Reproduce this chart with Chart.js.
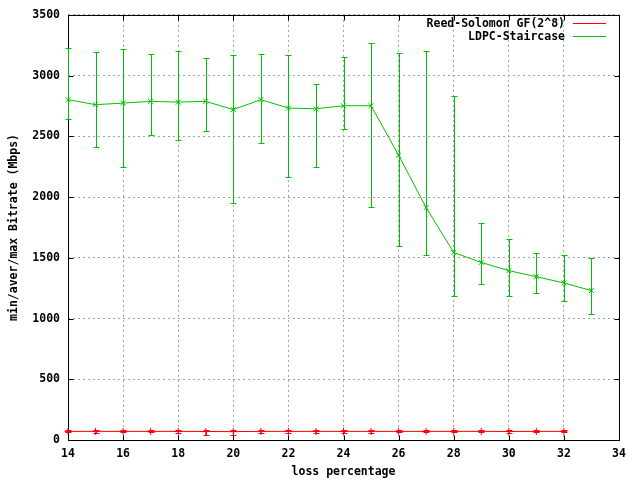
<!DOCTYPE html>
<html>
<head>
<meta charset="utf-8">
<script src="https://cdn.jsdelivr.net/npm/chart.js@4.4.0/dist/chart.umd.min.js"></script>
<style>
  html, body { margin: 0; padding: 0; background: #fff; }
  #wrap { width: 640px; height: 480px; }
</style>
</head>
<body>
<div id="wrap"><canvas id="bitrateChart"></canvas></div>
<script>
'use strict';

// ---- data ----
const xTicks = [14, 16, 18, 20, 22, 24, 26, 28, 30, 32, 34];
const yTicks = [0, 500, 1000, 1500, 2000, 2500, 3000, 3500];

const rsLoss = [14, 15, 16, 17, 18, 19, 20, 21, 22, 23, 24, 25, 26, 27, 28, 29, 30, 31, 32];
const rsAvg  = [71, 71, 71, 71, 71, 70, 69, 71, 71, 71, 71, 71, 71, 71, 71, 71, 70, 71, 71];
const rsMin  = [63, 60, 62, 62, 61, 45, 40, 58, 60, 60, 60, 60, 62, 62, 62, 62, 60, 62, 62];
const rsMax  = [79, 84, 81, 81, 82, 82, 80, 84, 82, 82, 82, 82, 80, 81, 81, 81, 80, 81, 81];

const ldpcLoss = [14, 15, 16, 17, 18, 19, 20, 21, 22, 23, 24, 25, 26, 27, 28, 29, 30, 31, 32, 33];
const ldpcAvg  = [2802, 2761, 2774, 2788, 2782, 2788, 2720, 2802, 2733, 2727, 2752, 2752, 2345, 1913, 1544, 1462, 1394, 1345, 1293, 1230];
const ldpcMin  = [2646, 2411, 2247, 2515, 2474, 2548, 1949, 2449, 2165, 2247, 2558, 1916, 1596, 1525, 1186, 1285, 1186, 1211, 1146, 1039];
const ldpcMax  = [3228, 3195, 3220, 3179, 3204, 3146, 3171, 3179, 3171, 2933, 3155, 3269, 3187, 3204, 2835, 1785, 1654, 1539, 1523, 1498];

const RED = '#ff0000';
const GREEN = '#00c000';
const FONT = { family: '"DejaVu Sans Mono", monospace', size: 11.5, weight: 'bold' };

function toPoints(xs, avg, lo, hi) {
  return xs.map((x, i) => ({ x: x, y: avg[i], yMin: lo[i], yMax: hi[i] }));
}

// ---- error bars (min/max) drawn through the chart scales ----
const errorBars = {
  id: 'errorBars',
  afterDatasetsDraw(chart) {
    const ctx = chart.ctx;
    const yScale = chart.scales.y;
    chart.data.datasets.forEach((ds, di) => {
      const meta = chart.getDatasetMeta(di);
      ctx.save();
      ctx.strokeStyle = ds.borderColor;
      ctx.lineWidth = 1;
      meta.data.forEach((pt, i) => {
        const raw = ds.data[i];
        const x = Math.round(pt.x) + 0.5;
        const y1 = Math.round(yScale.getPixelForValue(raw.yMin)) + 0.5;
        const y2 = Math.round(yScale.getPixelForValue(raw.yMax)) + 0.5;
        ctx.beginPath();
        ctx.moveTo(x, y1); ctx.lineTo(x, y2);
        ctx.moveTo(x - 3, y1); ctx.lineTo(x + 3, y1);
        ctx.moveTo(x - 3, y2); ctx.lineTo(x + 3, y2);
        ctx.stroke();
      });
      ctx.restore();
    });
  },
};

// ---- gnuplot style frame with inward ticks ----
const frame = {
  id: 'frame',
  beforeDatasetsDraw(chart) {
    const { ctx, chartArea: a, scales } = chart;
    const L = Math.round(a.left) + 0.5, R = Math.round(a.right) + 0.5;
    const T = Math.round(a.top) + 0.5, B = Math.round(a.bottom) + 0.5;
    ctx.save();
    ctx.strokeStyle = '#000';
    ctx.lineWidth = 1;
    ctx.beginPath();
    xTicks.forEach(v => {
      const x = Math.round(scales.x.getPixelForValue(v)) + 0.5;
      ctx.moveTo(x, B); ctx.lineTo(x, B - 5);
      ctx.moveTo(x, T); ctx.lineTo(x, T + 5);
    });
    yTicks.forEach(v => {
      const y = Math.round(scales.y.getPixelForValue(v)) + 0.5;
      ctx.moveTo(L, y); ctx.lineTo(L + 5, y);
      ctx.moveTo(R, y); ctx.lineTo(R - 5, y);
    });
    ctx.stroke();
    ctx.strokeRect(L, T, R - L, B - T);
    ctx.restore();
  },
};

// ---- key in the upper right: text then line sample ----
const gnuKey = {
  id: 'gnuKey',
  afterDraw(chart) {
    const ctx = chart.ctx;
    const textRight = 565;
    const rows = [24, 37];
    ctx.save();
    ctx.font = 'bold 11.5px "DejaVu Sans Mono", monospace';
    ctx.textAlign = 'right';
    ctx.textBaseline = 'middle';
    chart.data.datasets.forEach((ds, i) => {
      const y = rows[i];
      ctx.fillStyle = '#000';
      ctx.fillText(ds.label, textRight, y);
      ctx.strokeStyle = ds.borderColor;
      ctx.lineWidth = 1;
      ctx.beginPath();
      ctx.moveTo(573, y - 0.5); ctx.lineTo(606, y - 0.5);
      ctx.stroke();
    });
    ctx.restore();
  },
};

new Chart(document.getElementById('bitrateChart'), {
  type: 'line',
  data: {
    datasets: [
      {
        label: 'Reed-Solomon GF(2^8)',
        data: toPoints(rsLoss, rsAvg, rsMin, rsMax),
        borderColor: RED,
        backgroundColor: RED,
        borderWidth: 1,
        pointStyle: 'cross',
        pointRadius: 3.5,
        pointBorderWidth: 1,
        pointBorderColor: RED,
        tension: 0,
        fill: false,
        clip: false,
      },
      {
        label: 'LDPC-Staircase',
        data: toPoints(ldpcLoss, ldpcAvg, ldpcMin, ldpcMax),
        borderColor: GREEN,
        backgroundColor: GREEN,
        borderWidth: 1,
        pointStyle: 'crossRot',
        pointRadius: 3.5,
        pointBorderWidth: 1,
        pointBorderColor: GREEN,
        tension: 0,
        fill: false,
        clip: false,
      },
    ],
  },
  options: {
    responsive: true,
    maintainAspectRatio: false,
    animation: false,
    devicePixelRatio: 1,
    layout: { padding: { top: 13, right: 21, left: 0, bottom: 0 } },
    plugins: {
      legend: { display: false },
      tooltip: { enabled: false },
    },
    scales: {
      x: {
        type: 'linear',
        min: 14,
        max: 34,
        afterBuildTicks: s => { s.ticks = xTicks.map(v => ({ value: v })); },
        afterFit: s => { s.height = 40; },
        grid: { color: '#a0a0a0', lineWidth: 1, drawTicks: false },
        border: { display: false, dash: [2, 3] },
        ticks: { color: '#000', font: FONT, padding: 7, maxRotation: 0, callback: v => String(v) },
        title: {
          display: true,
          text: 'loss percentage',
          color: '#000',
          font: FONT,
          padding: { top: 0, bottom: 1.4 },
        },
      },
      y: {
        type: 'linear',
        min: 0,
        max: 3500,
        afterBuildTicks: s => { s.ticks = yTicks.map(v => ({ value: v })); },
        afterFit: s => { s.width = 68; },
        grid: { color: '#a0a0a0', lineWidth: 1, drawTicks: false },
        border: { display: false, dash: [2, 3] },
        ticks: { color: '#000', font: FONT, padding: 8, callback: v => String(v) },
        title: {
          display: true,
          text: 'min/aver/max Bitrate (Mbps)',
          color: '#000',
          font: FONT,
          padding: { top: 7, bottom: 0 },
        },
      },
    },
  },
  plugins: [frame, errorBars, gnuKey],
});
</script>
</body>
</html>
